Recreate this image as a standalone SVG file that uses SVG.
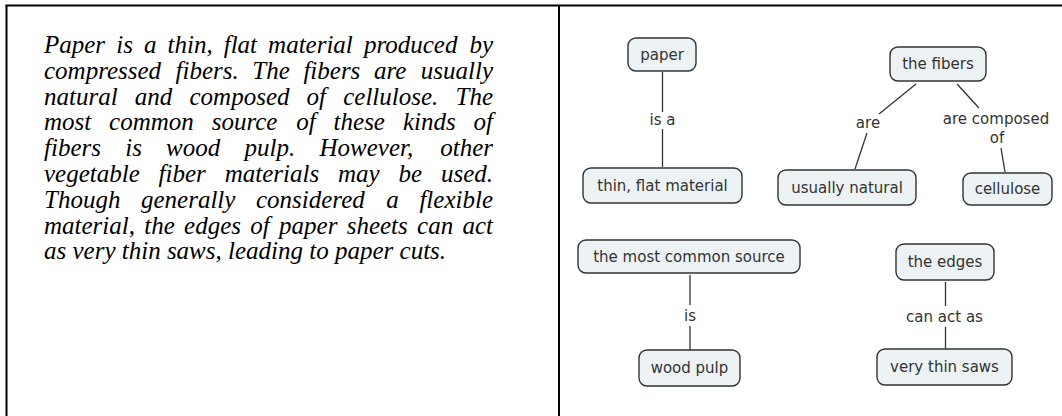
<svg xmlns="http://www.w3.org/2000/svg" width="1062" height="416" viewBox="0 0 1062 416">
  <style>
    .frame { stroke: #000; stroke-width: 2; fill: none; }
    .para { font-family: "Liberation Serif", "Times New Roman", serif; font-style: italic; font-size: 25px; fill: #000; }
    .node rect { fill: #edf2f5; stroke: #333; stroke-width: 1.4; }
    .node text, .label { font-family: "DejaVu Sans", Verdana, sans-serif; font-size: 15px; fill: #333; text-anchor: middle; }
    .link { stroke: #333; stroke-width: 1.3; fill: none; }
  </style>

  <!-- page frame: top rule, left rule and column divider -->
  <g id="frame">
    <line class="frame" x1="5.5" y1="5.5" x2="1062" y2="5.5"/>
    <line class="frame" x1="6.5" y1="5" x2="6.5" y2="416"/>
    <line class="frame" x1="559" y1="5" x2="559" y2="416"/>
  </g>

  <!-- justified paragraph, one text element per line -->
  <g id="paragraph" class="para">
    <text y="53"><tspan x="44">Paper</tspan><tspan x="116.2">is</tspan><tspan x="143.9">a</tspan><tspan x="167.5">thin,</tspan><tspan x="223.7">flat</tspan><tspan x="268.1">material</tspan><tspan x="363.9">produced</tspan><tspan x="493" text-anchor="end">by</tspan></text>
    <text y="78.8"><tspan x="44">compressed</tspan><tspan x="175.6">fibers.</tspan><tspan x="252.3">The</tspan><tspan x="303.4">fibers</tspan><tspan x="373.9">are</tspan><tspan x="493" text-anchor="end">usually</tspan></text>
    <text y="104.6"><tspan x="44">natural</tspan><tspan x="134.8">and</tspan><tspan x="189.5">composed</tspan><tspan x="306.6">of</tspan><tspan x="343.2">cellulose.</tspan><tspan x="493" text-anchor="end">The</tspan></text>
    <text y="130.4"><tspan x="44">most</tspan><tspan x="109.1">common</tspan><tspan x="211.7">source</tspan><tspan x="296.3">of</tspan><tspan x="333.6">these</tspan><tspan x="402.9">kinds</tspan><tspan x="493" text-anchor="end">of</tspan></text>
    <text y="156.2"><tspan x="44">fibers</tspan><tspan x="125.2">is</tspan><tspan x="166.1">wood</tspan><tspan x="244.5">pulp.</tspan><tspan x="319.5">However,</tspan><tspan x="493" text-anchor="end">other</tspan></text>
    <text y="182"><tspan x="44">vegetable</tspan><tspan x="158.6">fiber</tspan><tspan x="224.7">materials</tspan><tspan x="338">may</tspan><tspan x="398.5">be</tspan><tspan x="493" text-anchor="end">used.</tspan></text>
    <text y="207.8"><tspan x="44">Though</tspan><tspan x="141">generally</tspan><tspan x="256">considered</tspan><tspan x="386.3">a</tspan><tspan x="493" text-anchor="end">flexible</tspan></text>
    <text y="233.6"><tspan x="44">material,</tspan><tspan x="144.3">the</tspan><tspan x="184.1">edges</tspan><tspan x="250.3">of</tspan><tspan x="279.1">paper</tspan><tspan x="346.7">sheets</tspan><tspan x="417.1">can</tspan><tspan x="493" text-anchor="end">act</tspan></text>
    <text x="44" y="259.4">as very thin saws, leading to paper cuts.</text>
  </g>

  <!-- connectors with their linking phrases -->
  <g id="connectors">
    <line class="link" x1="662.5" y1="72" x2="662.5" y2="112"/>
    <line class="link" x1="662.5" y1="129" x2="662.5" y2="167"/>
    <text class="label" x="662.5" y="125">is a</text>

    <line class="link" x1="916" y1="84" x2="879" y2="114"/>
    <line class="link" x1="867" y1="133" x2="855" y2="169"/>
    <text class="label" x="868" y="128">are</text>

    <line class="link" x1="957" y1="84" x2="979" y2="108"/>
    <line class="link" x1="1001" y1="148" x2="1005" y2="172"/>
    <text class="label" x="996" y="124">are composed</text>
    <text class="label" x="997" y="143">of</text>

    <line class="link" x1="690" y1="275" x2="690" y2="305"/>
    <line class="link" x1="690" y1="326" x2="690" y2="350"/>
    <text class="label" x="690" y="321">is</text>

    <line class="link" x1="945.5" y1="282" x2="945.5" y2="306"/>
    <line class="link" x1="945.5" y1="327" x2="945.5" y2="349"/>
    <text class="label" x="944.5" y="321.5">can act as</text>
  </g>

  <!-- concepts -->
  <g id="paper" class="node"><rect x="628" y="38" width="68" height="33" rx="8"/><text x="662" y="60">paper</text></g>
  <g id="thin-flat-material" class="node"><rect x="583" y="168" width="159" height="35" rx="8"/><text x="662.5" y="190.5">thin, flat material</text></g>
  <g id="the-fibers" class="node"><rect x="890" y="47" width="96" height="34" rx="8"/><text x="938" y="69">the fibers</text></g>
  <g id="usually-natural" class="node"><rect x="778" y="170" width="138" height="35" rx="8"/><text x="847" y="192.5">usually natural</text></g>
  <g id="cellulose" class="node"><rect x="963" y="173" width="89" height="32" rx="8"/><text x="1007.5" y="194">cellulose</text></g>
  <g id="most-common-source" class="node"><rect x="578" y="240" width="222" height="33" rx="8"/><text x="689" y="261.5">the most common source</text></g>
  <g id="wood-pulp" class="node"><rect x="639" y="350" width="101" height="36" rx="8"/><text x="689.5" y="373">wood pulp</text></g>
  <g id="the-edges" class="node"><rect x="896" y="244" width="98" height="36" rx="8"/><text x="945" y="267">the edges</text></g>
  <g id="very-thin-saws" class="node"><rect x="877" y="349" width="135" height="36" rx="8"/><text x="944.5" y="372">very thin saws</text></g>
</svg>
